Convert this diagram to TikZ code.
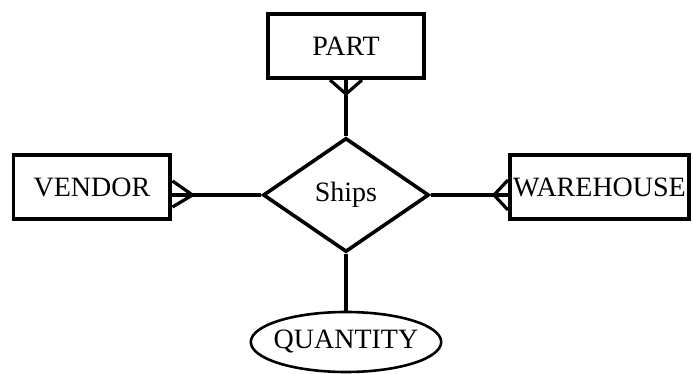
\documentclass[tikz,border=0pt]{standalone}
\usepackage{fontspec}
\setmainfont{Liberation Serif}
\usetikzlibrary{calc,shapes.geometric}

\tikzset{
  entity/.style={draw, line width=2pt, minimum height=32pt, inner sep=0pt,
    font=\fontsize{14}{16}\selectfont},
  rel/.style={draw, diamond, line width=1.8pt, minimum width=83pt,
    minimum height=57pt, inner sep=0pt, font=\fontsize{14}{16}\selectfont},
  attr/.style={draw, ellipse, line width=1.3pt, minimum width=91pt,
    minimum height=30pt, inner xsep=-2.5pt, inner ysep=0pt,
    font=\fontsize{14}{16}\selectfont},
  link/.style={line width=1.6pt}
}

\begin{document}
\begin{tikzpicture}[x=0.5pt, y=-0.5pt]
  \useasboundingbox (0,0) rectangle (693,374);
  % entities, relationship and attribute
  \node[entity, minimum width=78pt] (part) at (346,46) {PART};
  \node[entity, minimum width=78.5pt] (vendor) at (92,187) {VENDOR};
  \node[entity, minimum width=89.5pt] (warehouse) at (599.5,187) {WAREHOUSE};
  \node[rel] (ships) at (346,195) {Ships};
  \node[attr] (qty) at (346,342) {QUANTITY};
  % connectors
  \coordinate (partend) at (part.south -| ships.north);
  \coordinate (vendend) at (ships.west -| vendor.east);
  \coordinate (wareend) at (ships.east -| warehouse.west);
  \draw[link] (ships.north) -- (partend);
  \draw[link] (ships.west) -- (vendend);
  \draw[link] (ships.east) -- (wareend);
  \draw[link] (ships.south) -- (qty.north);
  % crow's feet
  \draw[link] ($(partend)+(-16,0)$) -- ($(partend)+(0,14)$) -- ($(partend)+(16,0)$);
  \draw[link] ($(vendend)+(0,-14)$) -- ($(vendend)+(20,0)$) -- ($(vendend)+(0,12)$);
  \draw[link] ($(wareend)+(0,-15)$) -- ($(wareend)+(-14,0)$) -- ($(wareend)+(0,15)$);
\end{tikzpicture}
\end{document}
